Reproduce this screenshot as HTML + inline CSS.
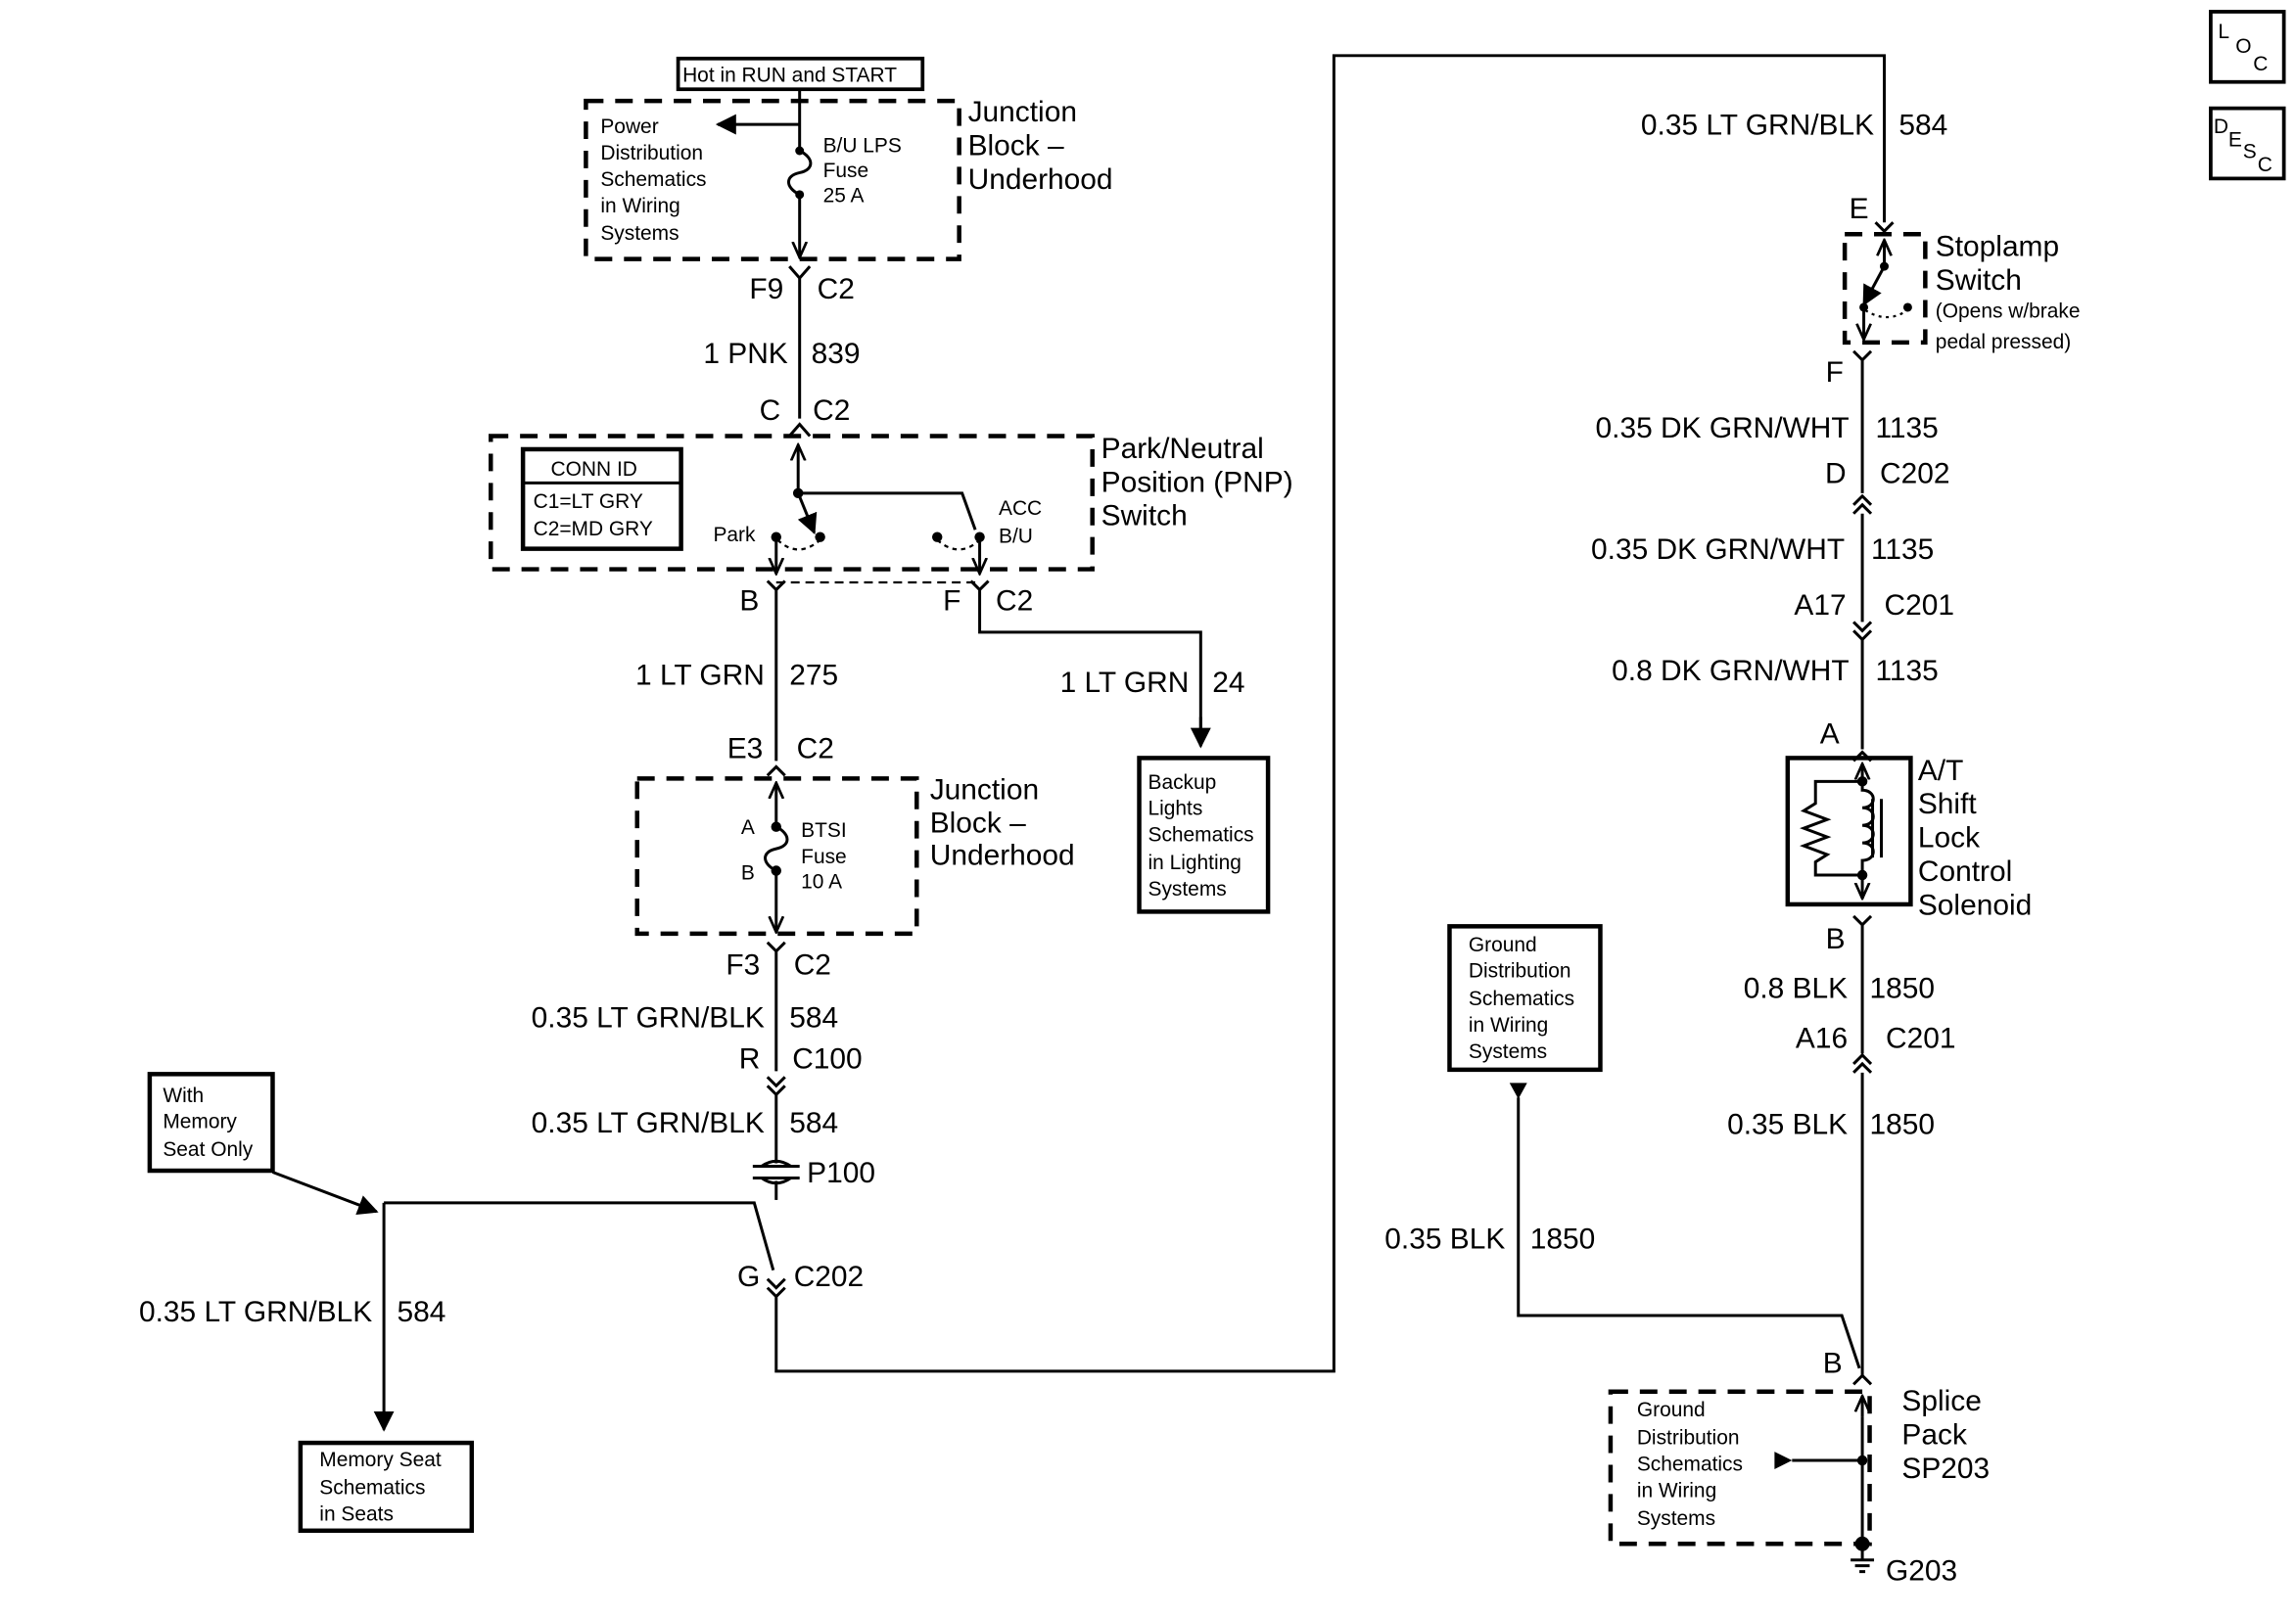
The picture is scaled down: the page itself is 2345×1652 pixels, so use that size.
<!DOCTYPE html>
<html><head><meta charset="utf-8"><style>
html,body{margin:0;padding:0;background:#fff;}
svg{display:block;}
text{font-family:"Liberation Sans",Arial,sans-serif;fill:#000;}
.b{font-size:20px;}
.s{font-size:14px;}
.r{text-anchor:end;}
</style></head><body>
<svg width="2345" height="1652" viewBox="0 0 1568 1105" xmlns="http://www.w3.org/2000/svg">
<defs>
<marker id="ah" viewBox="0 0 10 10" refX="9" refY="5" markerWidth="7" markerHeight="7" orient="auto"><path d="M0,0 L10,5 L0,10 z" fill="#000"/></marker>
<marker id="oa" viewBox="0 0 10 10" refX="9" refY="5" markerWidth="6" markerHeight="6" orient="auto"><path d="M0,1 L9,5 L0,9" fill="none" stroke="#000" stroke-width="1.5"/></marker>
</defs>
<g fill="none" stroke="#000" stroke-width="2">
<!-- top -->
<rect x="463" y="40" width="167" height="21" stroke-width="2.5"/>
<rect x="400" y="69" width="255" height="108" stroke-width="3" stroke-dasharray="12,8"/>
<line x1="546" y1="61" x2="546" y2="103"/>
<path d="M546,103 C556,108 556,116 546,118 C536,120 536,128 546,133"/>
<line x1="546" y1="133" x2="546" y2="176" marker-end="url(#oa)"/>
<line x1="546" y1="85" x2="490" y2="85" marker-end="url(#ah)"/>
<path d="M539,182 L546,190 L553,182 M546,190 V286 M539,298 L546,290 L553,298"/>
<!-- PNP -->
<rect x="335" y="298" width="411" height="91" stroke-width="3" stroke-dasharray="12,8"/>
<rect x="357" y="307" width="108" height="68" stroke-width="3"/>
<line x1="357" y1="330" x2="465" y2="330"/>
<line x1="545" y1="337" x2="545" y2="304" marker-end="url(#oa)"/>
<line x1="545" y1="337" x2="556" y2="364" marker-end="url(#ah)"/>
<path d="M545,337 H657 L666,362"/>
<line x1="530" y1="367" x2="530" y2="392" marker-end="url(#oa)"/>
<line x1="669" y1="367" x2="669" y2="392" marker-end="url(#oa)"/>
<path d="M531,369 Q545,382 560,369" stroke-dasharray="3,3" stroke-width="1.5"/>
<path d="M640,369 Q655,382 669,369" stroke-dasharray="3,3" stroke-width="1.5"/>
<line x1="530" y1="398" x2="669" y2="398" stroke-dasharray="6,4" stroke-width="1.5"/>
<path d="M524,397 L530,403 L536,397 M530,403 V520 M524,530 L530,524 L536,530"/>
<path d="M663,397 L669,403 L675,397 M669,403 V432 H820 V508" />
<line x1="820" y1="490" x2="820" y2="510" marker-end="url(#ah)"/>
<rect x="778" y="518" width="88" height="105" stroke-width="3"/>
<!-- JB2 -->
<rect x="435" y="532" width="191" height="106" stroke-width="3" stroke-dasharray="12,8"/>
<line x1="530" y1="565" x2="530" y2="535" marker-end="url(#oa)"/>
<path d="M530,565 C540,570 540,578 530,580 C520,582 520,590 530,595"/>
<line x1="530" y1="595" x2="530" y2="637" marker-end="url(#oa)"/>
<path d="M524,644 L530,650 L536,644 M530,650 V732 M524,736 L530,742 L536,736 M524,742 L530,748 L536,742 M530,748 V795"/>
<path d="M514,797 H546 M514,805 H546 M520,797 Q530,790 540,797 M520,805 Q530,812 540,805"/>
<path d="M530,807 V820"/>
<path d="M262,822 H515 L528,868"/>
<path d="M524,874 L530,880 L536,874 M524,880 L530,886 L536,880 M530,886 V937 H911 V38 H1287 V152"/>
<line x1="262" y1="822" x2="262" y2="977" marker-end="url(#ah)"/>
<rect x="102" y="734" width="84" height="66" stroke-width="3"/>
<line x1="186" y1="801" x2="257" y2="828" marker-end="url(#ah)"/>
<rect x="205" y="986" width="117" height="60" stroke-width="3"/>
<!-- right -->
<path d="M1281,152 L1287,158 L1293,152"/>
<rect x="1260" y="160" width="55" height="74" stroke-width="3" stroke-dasharray="12,8"/>
<line x1="1287" y1="182" x2="1287" y2="164" marker-end="url(#oa)"/>
<line x1="1287" y1="182" x2="1273" y2="208" marker-end="url(#ah)"/>
<line x1="1273" y1="210" x2="1273" y2="232" marker-end="url(#oa)"/>
<path d="M1274,212 Q1290,222 1304,211" stroke-dasharray="2,3" stroke-width="1.5"/>
<path d="M1266,240 L1272,246 L1278,240 M1272,246 V337 M1266,345 L1272,339 L1278,345 M1266,351 L1272,345 L1278,351 M1272,351 V425 M1266,425 L1272,431 L1278,425 M1266,431 L1272,437 L1278,431 M1272,437 V512 M1266,520 L1272,514 L1278,520"/>
<rect x="1221" y="518" width="84" height="100" stroke-width="3"/>
<line x1="1272" y1="534" x2="1272" y2="522" marker-end="url(#oa)"/>
<line x1="1272" y1="598" x2="1272" y2="614" marker-end="url(#oa)"/>
<path d="M1272,534 H1240 V549 L1232,554 L1248,560 L1232,566 L1248,572 L1232,578 L1248,584 L1240,589 V598 H1272"/>
<path d="M1272,534 V540 C1282,540 1282,552 1272,552 C1282,552 1282,564 1272,564 C1282,564 1282,576 1272,576 C1282,576 1282,588 1272,588 V598"/>
<path d="M1279,546 V586 M1285,546 V586"/>
<path d="M1266,626 L1272,632 L1278,626 M1272,632 V720 M1266,727 L1272,721 L1278,727 M1266,733 L1272,727 L1278,733 M1272,733 V940"/>
<path d="M1266,946 L1272,940 L1278,946"/>
<rect x="1100" y="951" width="177" height="104" stroke-width="3" stroke-dasharray="12,8"/>
<line x1="1272" y1="968" x2="1272" y2="954" marker-end="url(#oa)"/>
<line x1="1272" y1="968" x2="1272" y2="1055"/>
<line x1="1224" y1="998" x2="1272" y2="998"/>
<path d="M1264,1066 H1280 M1267,1070 H1277 M1270,1074 H1274"/>
<line x1="1272" y1="1055" x2="1272" y2="1066"/>
<rect x="990" y="633" width="103" height="98" stroke-width="3"/>
<path d="M1037,750 V899 H1258 L1270,935"/>
<rect x="1510" y="8" width="50" height="48" stroke-width="2.5"/>
<rect x="1510" y="74" width="50" height="48" stroke-width="2.5"/>
</g>
<g fill="#000">
<circle cx="546" cy="103" r="3"/><circle cx="546" cy="133" r="3"/>
<circle cx="545" cy="337" r="3.5"/><circle cx="530" cy="367" r="3.5"/><circle cx="560" cy="367" r="3.5"/>
<circle cx="640" cy="367" r="3.5"/><circle cx="669" cy="367" r="3.5"/>
<circle cx="530" cy="565" r="3.5"/><circle cx="530" cy="595" r="3.5"/>
<circle cx="1287" cy="182" r="3"/><circle cx="1273" cy="210" r="3"/><circle cx="1303" cy="210" r="3"/>
<circle cx="1272" cy="534" r="3.5"/><circle cx="1272" cy="598" r="3.5"/>
<circle cx="1272" cy="998" r="3.5"/><circle cx="1272" cy="1055" r="5"/>
<path d="M1212,992 L1224,998 L1212,1004 z"/>
<path d="M1031,740 L1043,740 L1037,751 z"/>
</g>
<text class="s" x="466" y="56">Hot in RUN and START</text>
<text class="s" x="410" y="91">Power</text><text class="s" x="410" y="109">Distribution</text><text class="s" x="410" y="127">Schematics</text><text class="s" x="410" y="145">in Wiring</text><text class="s" x="410" y="164">Systems</text>
<text class="s" x="562" y="104">B/U LPS</text><text class="s" x="562" y="121">Fuse</text><text class="s" x="562" y="138">25 A</text>
<text class="b" x="661" y="83">Junction</text><text class="b" x="661" y="106">Block –</text><text class="b" x="661" y="129">Underhood</text>
<text class="b r" x="535" y="204">F9</text><text class="b" x="558" y="204">C2</text>
<text class="b r" x="538" y="248">1 PNK</text><text class="b" x="554" y="248">839</text>
<text class="b r" x="533" y="287">C</text><text class="b" x="555" y="287">C2</text>
<text class="s" x="376" y="325">CONN ID</text><text class="s" x="364" y="347">C1=LT GRY</text><text class="s" x="364" y="366">C2=MD GRY</text>
<text class="s" x="487" y="370">Park</text><text class="s" x="682" y="352">ACC</text><text class="s" x="682" y="371">B/U</text>
<text class="b" x="752" y="313">Park/Neutral</text><text class="b" x="752" y="336">Position (PNP)</text><text class="b" x="752" y="359">Switch</text>
<text class="b" x="505" y="417">B</text><text class="b" x="644" y="417">F</text><text class="b" x="680" y="417">C2</text>
<text class="b r" x="522" y="468">1 LT GRN</text><text class="b" x="539" y="468">275</text>
<text class="b r" x="812" y="473">1 LT GRN</text><text class="b" x="828" y="473">24</text>
<text class="s" x="784" y="539">Backup</text><text class="s" x="784" y="557">Lights</text><text class="s" x="784" y="575">Schematics</text><text class="s" x="784" y="594">in Lighting</text><text class="s" x="784" y="612">Systems</text>
<text class="b r" x="521" y="518">E3</text><text class="b" x="544" y="518">C2</text>
<text class="s" x="506" y="570">A</text><text class="s" x="506" y="601">B</text>
<text class="s" x="547" y="572">BTSI</text><text class="s" x="547" y="590">Fuse</text><text class="s" x="547" y="607">10 A</text>
<text class="b" x="635" y="546">Junction</text><text class="b" x="635" y="569">Block –</text><text class="b" x="635" y="591">Underhood</text>
<text class="b r" x="519" y="666">F3</text><text class="b" x="542" y="666">C2</text>
<text class="b r" x="522" y="702">0.35 LT GRN/BLK</text><text class="b" x="539" y="702">584</text>
<text class="b r" x="519" y="730">R</text><text class="b" x="541" y="730">C100</text>
<text class="b r" x="522" y="774">0.35 LT GRN/BLK</text><text class="b" x="539" y="774">584</text>
<text class="b" x="551" y="808">P100</text>
<text class="b r" x="519" y="879">G</text><text class="b" x="542" y="879">C202</text>
<text class="s" x="111" y="753">With</text><text class="s" x="111" y="771">Memory</text><text class="s" x="111" y="790">Seat Only</text>
<text class="b r" x="254" y="903">0.35 LT GRN/BLK</text><text class="b" x="271" y="903">584</text>
<text class="s" x="218" y="1002">Memory Seat</text><text class="s" x="218" y="1021">Schematics</text><text class="s" x="218" y="1039">in Seats</text>
<text class="b r" x="1280" y="92">0.35 LT GRN/BLK</text><text class="b" x="1297" y="92">584</text>
<text class="b" x="1263" y="149">E</text>
<text class="b" x="1322" y="175">Stoplamp</text><text class="b" x="1322" y="198">Switch</text>
<text class="s" x="1322" y="217">(Opens w/brake</text><text class="s" x="1322" y="238">pedal pressed)</text>
<text class="b" x="1247" y="261">F</text>
<text class="b r" x="1263" y="299">0.35 DK GRN/WHT</text><text class="b" x="1281" y="299">1135</text>
<text class="b r" x="1261" y="330">D</text><text class="b" x="1284" y="330">C202</text>
<text class="b r" x="1260" y="382">0.35 DK GRN/WHT</text><text class="b" x="1278" y="382">1135</text>
<text class="b r" x="1261" y="420">A17</text><text class="b" x="1287" y="420">C201</text>
<text class="b r" x="1263" y="465">0.8 DK GRN/WHT</text><text class="b" x="1281" y="465">1135</text>
<text class="b" x="1243" y="508">A</text>
<text class="b" x="1310" y="533">A/T</text><text class="b" x="1310" y="556">Shift</text><text class="b" x="1310" y="579">Lock</text><text class="b" x="1310" y="602">Control</text><text class="b" x="1310" y="625">Solenoid</text>
<text class="b" x="1247" y="648">B</text>
<text class="b r" x="1262" y="682">0.8 BLK</text><text class="b" x="1277" y="682">1850</text>
<text class="b r" x="1262" y="716">A16</text><text class="b" x="1288" y="716">C201</text>
<text class="b r" x="1262" y="775">0.35 BLK</text><text class="b" x="1277" y="775">1850</text>
<text class="s" x="1003" y="650">Ground</text><text class="s" x="1003" y="668">Distribution</text><text class="s" x="1003" y="687">Schematics</text><text class="s" x="1003" y="705">in Wiring</text><text class="s" x="1003" y="723">Systems</text>
<text class="b r" x="1028" y="853">0.35 BLK</text><text class="b" x="1045" y="853">1850</text>
<text class="b" x="1245" y="938">B</text>
<text class="s" x="1118" y="968">Ground</text><text class="s" x="1118" y="987">Distribution</text><text class="s" x="1118" y="1005">Schematics</text><text class="s" x="1118" y="1023">in Wiring</text><text class="s" x="1118" y="1042">Systems</text>
<text class="b" x="1299" y="964">Splice</text><text class="b" x="1299" y="987">Pack</text><text class="b" x="1299" y="1010">SP203</text>
<text class="b" x="1288" y="1080">G203</text>
<text class="s" x="1515" y="26">L</text><text class="s" x="1527" y="36">O</text><text class="s" x="1539" y="48">C</text>
<text class="s" x="1512" y="91">D</text><text class="s" x="1522" y="100">E</text><text class="s" x="1532" y="108">S</text><text class="s" x="1542" y="117">C</text>
</svg>
</body></html>
